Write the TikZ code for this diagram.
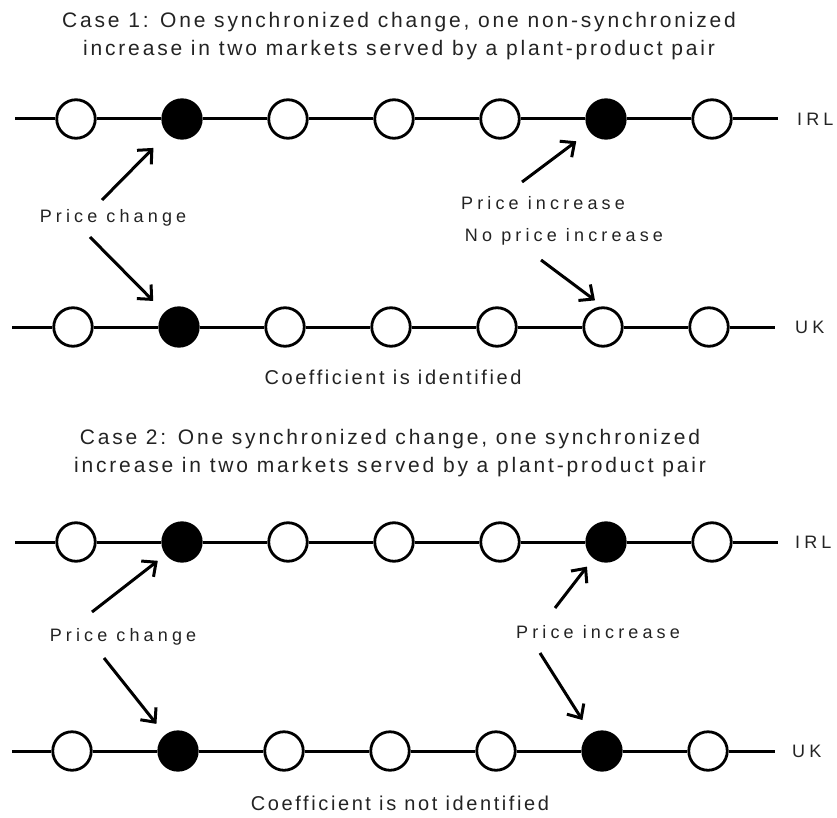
\documentclass[tikz,border=0pt]{standalone}
\usepackage{fontspec}
\setmainfont{Liberation Sans}
\newfontfamily\headfont{Liberation Sans}[LetterSpace=13.5]
\newfontfamily\notefont{Liberation Sans}[LetterSpace=13]
\newfontfamily\tagfont{Liberation Sans}[LetterSpace=23]
\definecolor{InkGrey}{RGB}{35,35,35}
\usetikzlibrary{positioning,arrows.meta}

\begin{document}
\begin{tikzpicture}[x=1pt, y=-1pt,
      every node/.style={text=InkGrey, inner sep=0pt},
      head/.style={font=\headfont\fontsize{21}{28}\selectfont, align=center},
      note/.style={font=\notefont\fontsize{20}{24}\selectfont},
      tag/.style={font=\tagfont\fontsize{18}{22}\selectfont},
      period/.style={circle, draw=black, fill=white, line width=2.8pt, minimum size=38.5pt},
      shock/.style={period, fill=black},
      axis/.style={line width=3pt},
      arr/.style={-{Straight Barb[length=11pt,width=20pt]}, line width=3pt}
  ]
    \path[fill=white, use as bounding box] (0,0) rectangle (837,818);

    % periods on each market line
    \foreach \row/\y/\xs in {irlA/119/76, ukA/327/73, irlB/542/76, ukB/751/72} {
      \foreach \k in {1,3,4,5,7} {
        \node[period] (\row-\k) at ({\xs+106*(\k-1)},\y) {};
      }
      \node[shock] (\row-2) at ({\xs+106},\y) {};
    }
    \node[shock] (irlA-6) at (606,119) {};
    \node[period] (ukA-6) at (603,327) {};
    \node[shock] (irlB-6) at (606,542) {};
    \node[shock] (ukB-6) at (602,751) {};

    \foreach \row/\y/\a/\b in {irlA/119/15/778, ukA/327/12/775, irlB/542/15/778, ukB/751/12/775} {
      \coordinate (\row-w) at (\a,\y);
      \coordinate (\row-e) at (\b,\y);
      \draw[axis] (\row-w) -- (\row-1) -- (\row-2) -- (\row-3) -- (\row-4)
                  -- (\row-5) -- (\row-6) -- (\row-7) -- (\row-e);
    }
    \node[tag, right=19pt of irlA-e] (irlA-name) {IRL};
    \node[tag, right=20pt of ukA-e] (ukA-name) {UK};
    \node[tag, right=17pt of irlB-e] (irlB-name) {IRL};
    \node[tag, right=17pt of ukB-e] (ukB-name) {UK};

    % case 1
    \node[head] (titleA) at (399,36) {Case 1: One synchronized change, one non-synchronized\\
      increase in two markets served by a plant-product pair};
    \node[tag] (chgA) at (113,218) {Price change};
    \node[tag] (incA) at (543,203) {Price increase};
    \node[tag] (noincA) at (564,237) {No price increase};
    \node[note] (resA) at (393,377) {Coefficient is identified};
    \coordinate (chgA-up) at (102,200);
    \coordinate (chgA-dn) at (90,237);
    \coordinate (incA-up) at (522,182);
    \coordinate (noincA-dn) at (541,260);
    \draw[arr, shorten >=20pt] (chgA-up) -- (irlA-2);
    \draw[arr, shorten >=16pt] (chgA-dn) -- (ukA-2);
    \draw[arr, shorten >=16.5pt] (incA-up) -- (irlA-6);
    \draw[arr, shorten >=10pt] (noincA-dn) -- (ukA-6.north);

    % case 2
    \node[head] (titleB) at (390,453) {Case 2: One synchronized change, one synchronized\\
      increase in two markets served by a plant-product pair};
    \node[tag] (chgB) at (123,637) {Price change};
    \node[tag] (incB) at (598,632) {Price increase};
    \node[note] (resB) at (400,803) {Coefficient is not identified};
    \coordinate (chgB-up) at (92,612);
    \coordinate (chgB-dn) at (104,658);
    \coordinate (incB-up) at (555,608);
    \coordinate (incB-dn) at (540,653);
    \draw[arr, shorten >=10pt] (chgB-up) -- (irlB-2);
    \draw[arr, shorten >=14pt] (chgB-dn) -- (ukB-2);
    \draw[arr, shorten >=10.5pt] (incB-up) -- (irlB-6);
    \draw[arr, shorten >=16pt] (incB-dn) -- (ukB-6);
  \end{tikzpicture}
\end{document}
